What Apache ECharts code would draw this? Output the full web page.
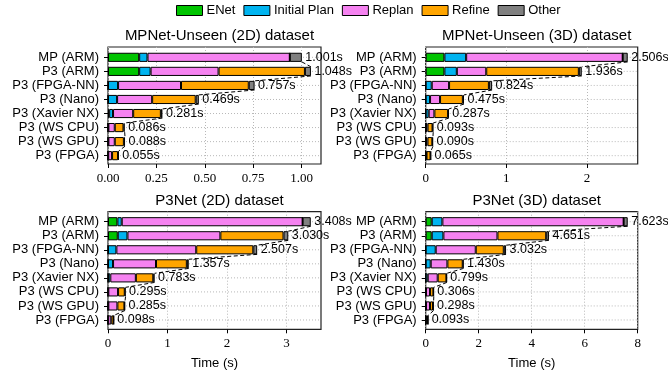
<!DOCTYPE html>
<html>
<head>
<meta charset="utf-8">
<script src="https://cdn.jsdelivr.net/npm/echarts@6/dist/echarts.min.js"></script>
<style>
html,body{margin:0;padding:0;background:#fff;}
#chart{width:668px;height:377px;}
</style>
</head>
<body>
<div id="chart"></div>
<script>
// ---------- data ----------
const categories = ['MP (ARM)', 'P3 (ARM)', 'P3 (FPGA-NN)', 'P3 (Nano)', 'P3 (Xavier NX)', 'P3 (WS CPU)', 'P3 (WS GPU)', 'P3 (FPGA)'];
const seriesNames = ['ENet', 'Initial Plan', 'Replan', 'Refine', 'Other'];

// MPNet-Unseen (2D)
const mp2dENet    = [0.161, 0.161, 0,     0,     0.006, 0,     0,     0];
const mp2dInitial = [0.043, 0.059, 0.052, 0.047, 0.020, 0.002, 0.002, 0.001];
const mp2dReplan  = [0.735, 0.351, 0.325, 0.181, 0.104, 0.033, 0.033, 0.020];
const mp2dRefine  = [0,     0.446, 0.350, 0.225, 0.143, 0.045, 0.047, 0.031];
const mp2dOther   = [0.062, 0.031, 0.030, 0.016, 0.008, 0.006, 0.006, 0.003];
const mp2dTotal   = [1.001, 1.048, 0.757, 0.469, 0.281, 0.086, 0.088, 0.055];

// MPNet-Unseen (3D)
const mp3dENet    = [0.232, 0.232, 0,     0,     0,     0,     0,     0];
const mp3dInitial = [0.270, 0.154, 0.075, 0.054, 0.037, 0.003, 0.003, 0];
const mp3dReplan  = [1.942, 0.365, 0.215, 0.124, 0.071, 0.020, 0.019, 0.010];
const mp3dRefine  = [0,     1.149, 0.494, 0.283, 0.170, 0.062, 0.060, 0.050];
const mp3dOther   = [0.062, 0.036, 0.040, 0.014, 0.009, 0.008, 0.008, 0.005];
const mp3dTotal   = [2.506, 1.936, 0.824, 0.475, 0.287, 0.093, 0.090, 0.065];

// P3Net (2D)
const p32dENet    = [0.158, 0.164, 0,     0,     0,     0,     0,     0];
const p32dInitial = [0.073, 0.163, 0.141, 0.085, 0.039, 0.005, 0.005, 0.003];
const p32dReplan  = [3.040, 1.562, 1.342, 0.722, 0.429, 0.164, 0.153, 0.052];
const p32dRefine  = [0,     1.061, 0.959, 0.518, 0.293, 0.113, 0.118, 0.040];
const p32dOther   = [0.137, 0.080, 0.065, 0.032, 0.022, 0.013, 0.009, 0.003];
const p32dTotal   = [3.408, 3.030, 2.507, 1.357, 0.783, 0.295, 0.285, 0.098];

// P3Net (3D)
const p33dENet    = [0.227, 0.227, 0,     0,     0,     0,     0,     0];
const p33dInitial = [0.403, 0.441, 0.378, 0.189, 0.076, 0.010, 0.010, 0];
const p33dReplan  = [6.840, 2.040, 1.511, 0.630, 0.377, 0.154, 0.154, 0.030];
const p33dRefine  = [0,     1.839, 1.058, 0.579, 0.328, 0.126, 0.113, 0.055];
const p33dOther   = [0.153, 0.104, 0.085, 0.032, 0.018, 0.016, 0.021, 0.008];
const p33dTotal   = [7.623, 4.651, 3.032, 1.430, 0.799, 0.306, 0.298, 0.093];

const titles = ['MPNet-Unseen (2D) dataset', 'MPNet-Unseen (3D) dataset', 'P3Net (2D) dataset', 'P3Net (3D) dataset'];
const tickValues = [[0, 0.25, 0.5, 0.75, 1], [0, 1, 2], [0, 1, 2, 3], [0, 2, 4, 6, 8]];

// ---------- style / layout ----------
const colors = ['#00c400', '#00b4f0', '#f582f0', '#ffa500', '#808080'];
const SANS = 'Liberation Sans';
const SERIF = 'Liberation Serif';
const panels = [
  {data: [mp2dENet, mp2dInitial, mp2dReplan, mp2dRefine, mp2dOther], totals: mp2dTotal,
   left: 108, width: 213, frameTop: 47, frameH: 117, gridTop: 50.3, gridH: 112.4, max: 1.1, interval: 0.25, dec: 2, xname: ''},
  {data: [mp3dENet, mp3dInitial, mp3dReplan, mp3dRefine, mp3dOther], totals: mp3dTotal,
   left: 425.7, width: 212, frameTop: 47, frameH: 117, gridTop: 50.3, gridH: 112.4, max: 2.63, interval: 1, dec: 0, xname: ''},
  {data: [p32dENet, p32dInitial, p32dReplan, p32dRefine, p32dOther], totals: p32dTotal,
   left: 108, width: 213, frameTop: 211.7, frameH: 117.6, gridTop: 214.7, gridH: 112.3, max: 3.58, interval: 1, dec: 0, xname: 'Time (s)'},
  {data: [p33dENet, p33dInitial, p33dReplan, p33dRefine, p33dOther], totals: p33dTotal,
   left: 425.7, width: 212, frameTop: 211.7, frameH: 117.6, gridTop: 214.7, gridH: 112.3, max: 8.0, interval: 2, dec: 0, xname: 'Time (s)'}
];
const BAR_FRAC = 0.65;

const grid = [], xAxis = [], yAxis = [], series = [], title = [];

panels.forEach((p, k) => {
  title.push({
    text: titles[k], left: p.left + p.width / 2, top: k < 2 ? 23 : 188, textAlign: 'center',
    textStyle: {fontFamily: SANS, fontSize: 15, fontWeight: 'normal', color: '#000'}
  });
  // frame grid
  grid.push({left: p.left, top: p.frameTop, width: p.width, height: p.frameH, show: true,
             borderColor: '#222', borderWidth: 1.2, backgroundColor: 'transparent', z: 0});
  // main grid
  grid.push({left: p.left, top: p.gridTop, width: p.width, height: p.gridH, show: false});

  xAxis.push({
    gridIndex: 2 * k, type: 'value', min: 0, max: p.max, interval: p.interval,
    axisLine: {show: false},
    axisTick: {show: true, length: 4, lineStyle: {color: '#000'}, customValues: tickValues[k]},
    axisLabel: {fontFamily: SERIF, fontSize: 13, color: '#000', margin: 8,
                customValues: tickValues[k],
                formatter: v => Number(v).toFixed(p.dec)},
    splitLine: {show: true, lineStyle: {color: '#b8b8b8', width: 1, type: [1, 2]}},
    name: p.xname, nameLocation: 'middle', nameGap: 28,
    nameTextStyle: {fontFamily: SANS, fontSize: 13, color: '#000'}
  });
  xAxis.push({gridIndex: 2 * k + 1, type: 'value', min: 0, max: p.max, show: false, splitLine: {show: false}});

  yAxis.push({gridIndex: 2 * k, type: 'value', min: 0, max: 1, show: false, splitLine: {show: false}});
  yAxis.push({
    gridIndex: 2 * k + 1, type: 'category', data: categories, inverse: true,
    axisLine: {show: false},
    axisTick: {show: true, alignWithLabel: true, interval: 0, length: 4, lineStyle: {color: '#000'}},
    axisLabel: {fontFamily: SANS, fontSize: 13, color: '#000', margin: 9, interval: 0, hideOverlap: false},
    splitLine: {show: false}
  });

  // horizontal dotted grid lines at category centres
  series.push({
    type: 'custom', xAxisIndex: 2 * k + 1, yAxisIndex: 2 * k + 1, z: 1, silent: true, clip: false,
    data: categories.map((c, i) => [0, i]),
    encode: {x: 0, y: 1},
    renderItem: (params, api) => {
      const i = api.value(1);
      const a = api.coord([0, i]);
      const b = api.coord([p.max, i]);
      return {type: 'line', shape: {x1: a[0], y1: a[1], x2: b[0], y2: b[1]},
              style: {stroke: '#b8b8b8', lineWidth: 1, lineDash: [1, 2]}};
    }
  });

  seriesNames.forEach((n, s) => {
    series.push({
      name: n, type: 'bar', stack: 'st' + k, xAxisIndex: 2 * k + 1, yAxisIndex: 2 * k + 1,
      barWidth: (BAR_FRAC * 100) + '%', z: 2,
      itemStyle: {color: colors[s], borderColor: '#000', borderWidth: 1},
      data: p.data[s]
    });
  });

  // dashed connectors + total labels
  series.push({
    type: 'custom', xAxisIndex: 2 * k + 1, yAxisIndex: 2 * k + 1, z: 5, silent: true, clip: false,
    data: p.totals.map((t, i) => [t, i]),
    encode: {x: 0, y: 1},
    renderItem: (params, api) => {
      const i = params.dataIndex;
      const t = api.value(0);
      const pt = api.coord([t, i]);
      const half = api.size([0, 1])[1] * BAR_FRAC / 2;
      const children = [];
      if (i < p.totals.length - 1) {
        const q = api.coord([p.totals[i + 1], i + 1]);
        children.push({type: 'line', shape: {x1: pt[0], y1: pt[1] + half, x2: q[0], y2: q[1] - half},
                       style: {stroke: '#000', lineWidth: 1, lineDash: [4, 2.5]}});
      }
      children.push({type: 'text', x: pt[0] + 3.5, y: pt[1],
        style: {text: t.toFixed(3) + 's', fill: '#000', fontFamily: SANS, fontSize: 12.5,
                align: 'left', verticalAlign: 'middle', textAlign: 'left', textVerticalAlign: 'middle'}});
      return {type: 'group', children: children};
    }
  });
});

const chart = echarts.init(document.getElementById('chart'), null, {renderer: 'canvas'});
chart.setOption({
  animation: false,
  backgroundColor: '#fff',
  title: title,
  legend: {
    data: seriesNames, left: 176, top: 4, itemWidth: 26, itemHeight: 10, itemGap: 8, padding: 0,
    icon: 'rect', selectedMode: false,
    itemStyle: {borderColor: '#000', borderWidth: 1},
    textStyle: {fontFamily: SANS, fontSize: 13, color: '#000', padding: [0, 0, 0, -1]}
  },
  grid: grid, xAxis: xAxis, yAxis: yAxis, series: series
});
</script>
</body>
</html>
